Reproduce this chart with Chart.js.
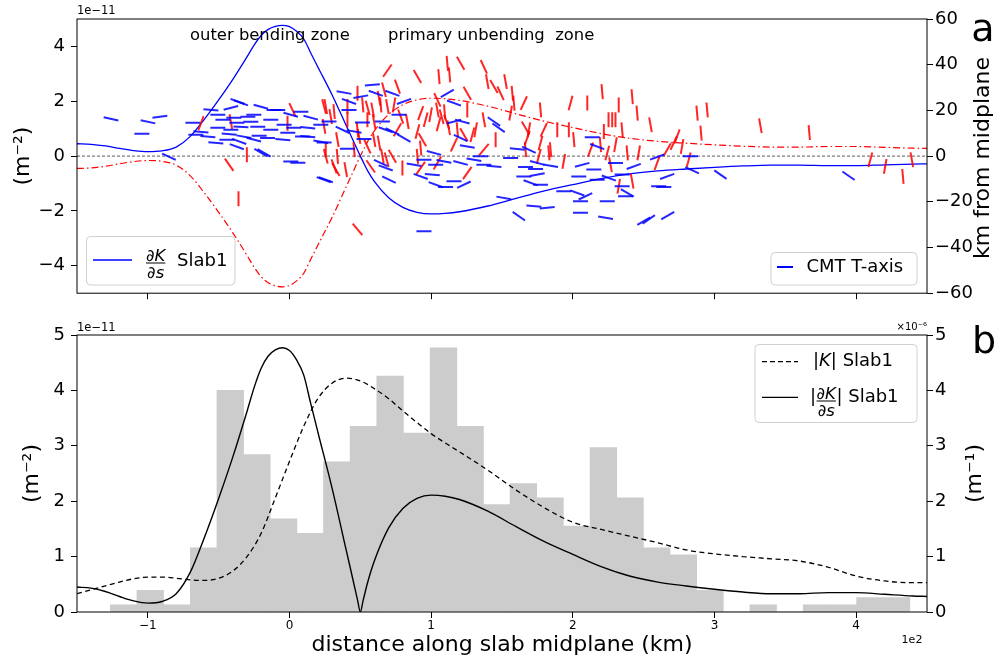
<!DOCTYPE html>
<html>
<head>
<meta charset="utf-8">
<script src="https://cdn.jsdelivr.net/npm/chart.js@4.4.0/dist/chart.umd.min.js"></script>
<style>
  html, body { margin: 0; padding: 0; background: #fff; }
  #wrap { position: relative; width: 1003px; height: 662px; }
  #chartA { position: absolute; left: 0; top: 0; }
  #chartB { position: absolute; left: 0; top: 310px; }
</style>
</head>
<body>
<div id="wrap">
  <canvas id="chartA" width="1003" height="310"></canvas>
  <canvas id="chartB" width="1003" height="352"></canvas>
</div>
<script>
// ---- axis ticks ----
const xTickValues = [-100, 0, 100, 200, 300, 400];
const xTickLabels = ['\u22121', '0', '1', '2', '3', '4'];
const topLeftTicks = [-4, -2, 0, 2, 4];
const kmTicks = [-60, -40, -20, 0, 20, 40, 60];
const botTicks = [0, 1, 2, 3, 4, 5];

// ---- curvature gradient dK/ds along slab (x in km, values in 1e-11 m^-2) ----
const curveX = [-150, -140, -130, -120, -110, -100, -90, -80, -70, -60, -50, -40, -30, -25, -20, -15, -10, -5, 0,
  5, 10, 15, 20, 30, 40, 45, 48, 50, 52, 55, 60, 70, 80, 90, 100, 110, 120,
  140, 160, 180, 200, 220, 240, 260, 280, 300, 320, 340, 360, 380, 400, 420, 440, 450];
const dKds = [0.45, 0.43, 0.37, 0.28, 0.20, 0.16, 0.19, 0.33, 0.72, 1.35, 2.05, 2.80, 3.62, 4.05, 4.40, 4.62, 4.73, 4.77, 4.72,
  4.55, 4.28, 3.76, 3.25, 2.24, 1.12, 0.56, 0.22, 0, -0.21, -0.52, -0.93, -1.52, -1.87, -2.05, -2.11, -2.09, -2.03,
  -1.82, -1.54, -1.27, -1.04, -0.82, -0.65, -0.54, -0.47, -0.41, -0.36, -0.33, -0.33, -0.35, -0.35, -0.32, -0.29, -0.28];

// ---- |K| (1e-6 m^-1) ----
const kX = [-150, -140, -130, -120, -110, -100, -90, -80, -70, -60, -50, -40, -30, -20, -10, 0,
  10, 20, 30, 40, 50, 60, 70, 80, 90, 100, 110, 120,
  140, 160, 180, 200, 220, 240, 260, 280, 300, 320, 340, 360, 380, 400, 420, 440, 450];
const absK = [0.33, 0.40, 0.47, 0.54, 0.60, 0.63, 0.63, 0.61, 0.58, 0.57, 0.61, 0.74, 1.00, 1.42, 2.06, 2.72,
  3.35, 3.85, 4.13, 4.22, 4.17, 4.03, 3.85, 3.63, 3.42, 3.22, 3.05, 2.89,
  2.56, 2.20, 1.88, 1.62, 1.49, 1.37, 1.25, 1.12, 1.05, 1.00, 0.96, 0.92, 0.81, 0.65, 0.56, 0.53, 0.53];

// ---- earthquake histogram ----
const binCenters = [-117.1, -98.3, -79.5, -60.6, -41.8, -23.0, -4.2, 14.6, 33.4, 52.2, 71.0, 89.9, 108.7, 127.5, 146.3,
  165.1, 183.9, 202.7, 221.6, 240.4, 259.2, 278.0, 296.8, 315.6, 334.4, 353.3, 372.1, 390.9, 409.7, 428.5];
const binHeights = [0.13, 0.39, 0.13, 1.16, 4.00, 2.84, 1.68, 1.42, 2.71, 3.35, 4.26, 3.23, 4.77, 3.35, 1.94,
  2.32, 2.06, 1.55, 2.97, 2.06, 1.16, 1.03, 0.39, 0, 0.13, 0, 0.13, 0.13, 0.26, 0.26];

// ---- CMT T-axis (x km, km from midplane, angle deg) ----
const tX = [-126.0, -99.9, -91.5, -104.2, -85.1, -68.2, -62.5, -55.5, -50.6, -50.6, -57.6, -41.4, -34.3, -39.3, -29.4,
  -25.2, -34.3, -22.4, -13.2, -41.4, -32.2, -25.2, -13.2, -8.3, 0.9, 8.0, 15.0, 3.0, 12.9, 22.1,
  -4.7, 12.9, 22.1, -20.2, 0.9, 5.9, 24.2, -1.2, -20.2, -47.0, -37.2, -27.3, -44.2, -52.0, -37.2,
  -36.7, -10.9, -3.8, 9.2, -17.9, -66.1, -42.6, -35.5, -21.4, -15.5,
  38.5, 42.0, 50.3, 58.5, 60.9, 72.6, 80.8, 42.0, 27.9, 37.4, 45.6, 52.6, 40.9, 24.4, 51.5,
  65.6, 67.9, 80.8, 72.6, 77.3, 111.4, 116.1, 116.1, 122.0, 120.8, 125.5, 64.4, 67.9, 70.2, 87.9,
  94.9, 102.0, 103.2, 109.0, 92.6, 100.8, 103.2, 110.2, 116.1, 123.1, 120.8, 130.2, 134.9, 137.2, 94.9,
  25.6, 144.3, 147.6, 160.8, 169.0, 156.1, 144.3, 166.6, 174.9, 184.3, 173.7, 165.4, 174.9, 170.2, 177.2,
  151.3, 172.5, 181.9, 161.9, 205.4, 193.6, 203.1, 208.9, 205.4, 204.2, 206.6, 214.8, 213.7, 217.2, 217.2,
  225.4, 224.3, 223.1, 230.1, 234.8, 234.8, 238.4, 237.2, 243.0, 253.6, 259.5, 260.6, 266.6, 264.2, 267.0,
  283.0, 284.2, 304.2, 394.6, 250.1];
const tZ = [16.3, 15.0, 17.2, 9.8, -0.3, 14.6, 10.6, 20.2, 18.1, 12.4, 8.5, 21.1, 23.3, 16.8, 17.2,
  18.1, 12.8, 12.8, 11.5, 11.5, 8.5, 7.2, 15.9, 20.2, 18.1, 19.4, 16.8, 12.4, 12.4, 13.7,
  7.2, 8.5, 6.3, 1.5, -2.4, -2.9, -10.3, 10.2, 21.6, 15.9, 14.6, 15.0, 7.2, 5.8, 4.1,
  23.9, 20.2, 13.7, 8.6, 1.4, 9.3, 9.6, 6.4, 8.9, 7.9,
  27.8, 23.9, 26.0, 31.2, 27.5, 27.5, 23.9, 20.2, 15.1, 11.5, 10.8, 7.5, 3.2, 6.0, 14.7,
  15.1, 11.5, 7.9, 10.8, 18.1, 27.5, 23.2, 15.1, 15.1, 7.9, 4.2, -3.0, -5.2, -10.3, -3.8,
  -1.6, 1.4, -3.8, -2.3, -8.9, -8.1, -12.5, -13.5, -11.0, -12.5, -3.0, -1.6, -0.1, -3.8, -32.9,
  -10.3, 15.1, 12.4, 3.1, 2.8, -0.8, -4.5, -4.8, -3.0, -4.2, -5.6, -8.9, -8.1, -11.7, -12.5,
  -18.3, -21.9, -22.6, -26.3, -24.8, -15.4, -16.1, -17.6, -19.8, -8.9, -3.8, -5.9, 8.3, 4.2, -10.3,
  -9.6, -19.8, -27.0, -3.0, -8.1, -13.2, -16.1, -17.6, -4.5, -27.7, -0.4, -13.2, -8.9, -13.5, -26.0,
  -0.1, -6.2, -8.1, -8.6, -28.5];
const tRot = [12, 12, -8, 0, 25, 0, 5, 5, 0, 0, 5, -15, 20, 0, 0,
  0, 3, 0, 0, 0, 10, 15, 0, 0, 15, 0, 15, 0, 5, 0,
  5, 5, 10, 30, 0, 0, 20, 0, 15, 0, 0, 0, 0, 5, 20,
  20, 0, 0, 0, 30, 0, 5, 20, 0, 0,
  10, 20, -10, -5, 20, 20, -20, 0, 0, 25, 10, 0, 0, 0, 0,
  0, 20, 30, 25, 0, -30, 20, -15, 15, 25, 10, 25, 20, 25, 10,
  0, 15, 0, 10, 20, 5, 20, 0, 0, -25, 15, 10, 0, 0, 0,
  20, 35, 35, 5, 25, 0, 5, 0, 15, 10, 0, 0, -10, 20, 0,
  10, 5, -5, 35, 0, 0, 20, -25, 0, 0, -15, 0, 0, 20, 0,
  20, 0, 10, 0, 0, 0, 30, 0, -20, -35, -20, 0, -20, 0, -30,
  0, 25, 35, 35, -30];

// ---- CMT P-axis (x km, km from midplane, angle deg) ----
const pX = [-62.5, -41.4, -30.1, -42.6, -36.0, 2.1, -1.4, 24.4, 29.1, 25.6, 31.5, 33.8, 69.1, 90.3, 105.5,
  111.4, 113.0, 120.8, 137.2, 139.6, 76.2, 66.7, 63.2, 48.0, 40.9, 51.7, 55.2, 58.7, 64.4, 69.1,
  73.8, 25.6, 31.5, 24.4, 40.9, 55.0, 59.7, 78.5, 83.2, 76.2, 92.6, 96.1, 99.6, 104.4, 107.4,
  109.5, 110.9, 105.3, 112.4, 104.4, 125.5, 125.5, 137.2, 118.5, 129.1, 131.4, 90.3, 93.8, 92.6, 116.1,
  123.1, 25.6, 33.8, 39.7, 32.7, 57.3, 65.6, 68.6, 72.6, 79.7, 90.3, 92.6, 104.4, 125.5, 137.2,
  48.0, 59.7, 55.0, 63.2, 48.0, 49.1, 45.6, 152.5, 149.0, 157.3, 158.4, 165.4, 177.2, 198.4, 210.2,
  220.7, 232.4, 241.9, 245.4, 254.8, 225.2, 227.8, 230.1, 221.9, 234.8, 145.5, 156.1, 166.6, 167.8, 169.0,
  179.5, 177.2, 176.0, 184.3, 189.0, 197.2, 200.7, 193.6, 212.5, 219.5, 224.3, 230.1, 238.4, 246.5, 259.5,
  241.9, 232.4, 226.6, 183.1, 166.6, 287.7, 294.8, 290.5, 332.4, 366.9, 273.6, 271.2, 266.6, 277.1, 281.8,
  410.0, 420.5, 433.0, 439.3, 144.3];
const pZ = [14.4, 15.1, 0.6, -3.8, -18.7, 20.2, 14.4, 21.7, 17.3, -0.1, -4.5, 7.2, 37.4, 34.8, 34.8,
  40.6, 35.5, 40.6, 39.1, 32.6, 30.4, 29.0, 25.3, 27.5, 21.7, 22.4, 21.1, 20.2, 22.4, 21.7,
  22.4, 21.7, 19.5, 13.0, 15.9, 15.9, 15.1, 17.3, 15.1, 11.5, 18.8, 15.9, 18.1, 20.2, 17.2,
  19.4, 15.0, 14.1, 12.4, 24.6, 27.5, 20.2, 15.9, 11.5, 9.3, 11.5, 10.8, 7.2, 3.5, 5.0,
  9.3, 2.8, -0.1, -5.9, -5.9, -4.5, -0.1, -1.6, -0.1, -5.2, -0.1, -5.2, -3.0, -7.4, 2.8,
  -32.1, 7.2, 4.2, 5.7, 11.5, 8.6, 2.8, 32.6, 27.5, 27.5, 23.2, 23.2, 20.2, 23.2, 23.2,
  28.2, 22.4, 26.0, 18.8, 13.7, 15.9, 15.9, 15.9, 10.8, 11.5, 7.2, 18.8, 12.3, 7.9, 11.5,
  11.5, 5.7, -0.1, 2.8, 11.5, 11.5, 7.2, -2.3, 2.8, 5.0, 1.4, 5.0, 1.4, 1.4, -3.0,
  -11.0, -13.2, -3.8, 1.4, 2.8, 18.8, 20.2, 10.1, 13.3, 10.3, 8.6, 5.7, 2.8, 4.2, -1.6,
  -1.6, -4.5, -8.9, -1.6, 30.5];
const pRot = [-70, 80, 90, 55, 90, 65, 90, 75, 80, 75, 70, 80, -55, 60, 85,
  85, 85, 60, 65, 80, 70, 75, 80, 90, 90, 85, 75, 80, 85, 80,
  -80, 80, 85, 80, 90, 90, 80, 70, 80, -60, -70, -75, -80, 80, 75,
  85, 70, -75, 80, 65, 60, 90, 80, 85, -75, -80, -75, 60, 85, -65,
  60, 90, 85, 80, 60, 55, 80, 75, 60, 90, 85, -55, -60, -55, -50,
  50, 80, 65, 80, 85, 80, 85, 80, 65, 85, 85, -65, 85, -75, 90,
  85, 90, 85, 85, 80, 90, 90, 90, 90, 85, 90, -80, 60, -70, -80,
  -65, -75, -75, 85, 90, 90, 85, -80, -70, 85, -75, -80, 85, -80, -70,
  80, -80, 80, 85, 85, 85, 85, 85, 80, 85, -70, -65, -60, -80, -75,
  -75, -80, 85, 80, 60];

const FONT = '"DejaVu Sans", sans-serif';
Chart.defaults.font.family = FONT;
Chart.defaults.color = '#000';

function setTicks(values) {
  return axis => { axis.ticks = values.map(v => ({ value: v })); };
}
function minusLabel(v) { return String(v).replace('-', '\u2212'); }
function pairs(xs, ys) { return xs.map((x, i) => ({ x: x, y: ys[i] })); }

function drawText(ctx, txt, x, y, size, opts) {
  opts = opts || {};
  ctx.save();
  ctx.font = (opts.italic ? 'italic ' : '') + size + 'px ' + FONT;
  ctx.fillStyle = opts.color || '#000';
  ctx.textAlign = opts.align || 'left';
  ctx.textBaseline = opts.baseline || 'middle';
  if (opts.rotate) {
    ctx.translate(x, y);
    ctx.rotate(opts.rotate);
    ctx.fillText(txt, 0, 0);
  } else {
    ctx.fillText(txt, x, y);
  }
  const w = ctx.measureText(txt).width;
  ctx.restore();
  return w;
}

function textWidth(ctx, txt, size, italic) {
  ctx.save();
  ctx.font = (italic ? 'italic ' : '') + size + 'px ' + FONT;
  const w = ctx.measureText(txt).width;
  ctx.restore();
  return w;
}

// dK/ds written as a stacked fraction
function drawFrac(ctx, x, yBar, size) {
  const w = Math.max(textWidth(ctx, '\u2202K', size, true), textWidth(ctx, '\u2202s', size, true));
  drawText(ctx, '\u2202K', x + w / 2, yBar - 2.5, size, { italic: true, align: 'center', baseline: 'alphabetic' });
  drawText(ctx, '\u2202s', x + w / 2, yBar + size * 0.9, size, { italic: true, align: 'center', baseline: 'alphabetic' });
  ctx.fillStyle = '#000';
  ctx.fillRect(x, yBar - 0.5, w, 1);
  return w;
}

function legendFrame(ctx, x, y, w, h) {
  ctx.save();
  ctx.beginPath();
  if (ctx.roundRect) ctx.roundRect(x, y, w, h, 4); else ctx.rect(x, y, w, h);
  ctx.fillStyle = 'rgba(255,255,255,0.8)';
  ctx.fill();
  ctx.strokeStyle = '#d0d0d0';
  ctx.lineWidth = 1;
  ctx.stroke();
  ctx.restore();
}

function seg(ctx, x1, y1, x2, y2, color, width, dash) {
  ctx.save();
  ctx.strokeStyle = color;
  ctx.lineWidth = width;
  ctx.setLineDash(dash || []);
  ctx.beginPath();
  ctx.moveTo(x1, y1);
  ctx.lineTo(x2, y2);
  ctx.stroke();
  ctx.restore();
}

function frame(ctx, a) {
  ctx.save();
  ctx.strokeStyle = '#000';
  ctx.lineWidth = 1;
  ctx.strokeRect(a.left, a.top, a.right - a.left, a.bottom - a.top);
  ctx.restore();
}

const tickGrid = { drawOnChartArea: false, color: '#000', tickLength: 6, offset: false };

const topDecor = {
  id: 'topDecor',
  afterDraw(chart) {
    const ctx = chart.ctx, a = chart.chartArea;
    const mid = (a.top + a.bottom) / 2;
    frame(ctx, a);
    drawText(ctx, '1e\u221211', a.left, 11, 11.5);
    drawText(ctx, 'outer bending zone', 190, 36, 16.4);
    drawText(ctx, 'primary unbending  zone', 388, 36, 16.4);
    drawText(ctx, 'a', 983, 41, 38, { align: 'center', baseline: 'alphabetic' });
    drawText(ctx, '(m\u207b\u00b2)', 23, mid, 22, { align: 'center', rotate: -Math.PI / 2 });
    drawText(ctx, 'km from midplane', 983, 158, 22, { align: 'center', rotate: -Math.PI / 2 });

    legendFrame(ctx, 86.5, 236.5, 148.5, 48.5);
    seg(ctx, 93, 260, 132, 260, '#0000ff', 1.3);
    drawFrac(ctx, 146, 263, 16.5);
    drawText(ctx, 'Slab1', 177, 261, 18);

    legendFrame(ctx, 771, 252.5, 146, 32.5);
    seg(ctx, 777, 267, 793, 267, '#0000ff', 2);
    drawText(ctx, 'CMT T-axis', 806.5, 267, 18);
  }
};

const bottomDecor = {
  id: 'bottomDecor',
  afterDraw(chart) {
    const ctx = chart.ctx, a = chart.chartArea;
    const mid = (a.top + a.bottom) / 2;
    frame(ctx, a);
    drawText(ctx, '1e\u221211', a.left, 18, 11.5);
    drawText(ctx, '\u00d710\u207b\u2076', a.right, 17, 10, { align: 'right' });
    drawText(ctx, '1e2', 912, 330, 11, { align: 'center' });
    drawText(ctx, 'b', 984, 43, 38, { align: 'center', baseline: 'alphabetic' });
    drawText(ctx, '(m\u207b\u00b2)', 32, mid, 22, { align: 'center', rotate: -Math.PI / 2 });
    drawText(ctx, '(m\u207b\u00b9)', 975, mid, 22, { align: 'center', rotate: -Math.PI / 2 });
    drawText(ctx, 'distance along slab midplane (km)', (a.left + a.right) / 2, 335, 22, { align: 'center' });

    legendFrame(ctx, 755, 34.5, 162, 78);
    seg(ctx, 762, 51.7, 798, 51.7, '#000', 1.3, [5, 3]);
    let x = 813;
    x += drawText(ctx, '|', x, 51.7, 18);
    x += drawText(ctx, 'K', x, 51.7, 18, { italic: true });
    x += drawText(ctx, '|', x, 51.7, 18);
    drawText(ctx, ' Slab1', x, 51.7, 18);

    seg(ctx, 762, 87.3, 798, 87.3, '#000', 1.3);
    x = 810;
    x += drawText(ctx, '|', x, 87.3, 18);
    x += drawFrac(ctx, x + 0.5, 91, 16.5) + 1;
    x += drawText(ctx, '|', x, 87.3, 18);
    drawText(ctx, ' Slab1', x, 87.3, 18);
  }
};

// ---- panel a ----
new Chart(document.getElementById('chartA'), {
  type: 'line',
  data: {
    datasets: [
      {
        type: 'scatter', label: 'CMT T-axis', data: pairs(tX, tZ), yAxisID: 'yKm',
        pointStyle: 'line', pointRadius: 7.5, pointBorderWidth: 2,
        pointBorderColor: 'rgba(0,0,255,0.85)',
        pointRotation: c => tRot[c.dataIndex], order: 0
      },
      {
        type: 'scatter', label: 'CMT P-axis', data: pairs(pX, pZ), yAxisID: 'yKm',
        pointStyle: 'line', pointRadius: 7.5, pointBorderWidth: 2,
        pointBorderColor: 'rgba(255,0,0,0.85)',
        pointRotation: c => pRot[c.dataIndex], order: 1
      },
      {
        label: 'dK/ds Slab1', data: pairs(curveX, dKds), yAxisID: 'y',
        borderColor: '#0000ff', borderWidth: 1.3, pointRadius: 0,
        cubicInterpolationMode: 'monotone', order: 2
      },
      {
        label: '-dK/ds Slab1', data: pairs(curveX, dKds.map(v => -v)), yAxisID: 'y',
        borderColor: '#ff0000', borderWidth: 1.2, borderDash: [7, 3, 1.5, 3], pointRadius: 0,
        cubicInterpolationMode: 'monotone', order: 3
      },
      {
        label: 'zero', data: [{ x: -150, y: 0 }, { x: 450, y: 0 }], yAxisID: 'y',
        borderColor: '#333', borderWidth: 0.8, borderDash: [3, 2], pointRadius: 0, order: 4
      }
    ]
  },
  options: {
    responsive: false,
    animation: false,
    events: [],
    layout: { padding: { top: 19, left: 0, right: 0, bottom: 0 } },
    plugins: { legend: { display: false }, tooltip: { enabled: false } },
    scales: {
      x: {
        type: 'linear', min: -150, max: 450, offset: false,
        afterBuildTicks: setTicks(xTickValues),
        afterFit: s => { s.height = 16; },
        ticks: { display: false },
        grid: tickGrid, border: { display: false }
      },
      y: {
        position: 'left', min: -5, max: 5,
        afterBuildTicks: setTicks(topLeftTicks),
        afterFit: s => { s.width = 77; },
        ticks: { font: { size: 18 }, color: '#000', padding: 6, callback: minusLabel },
        grid: tickGrid, border: { display: false }
      },
      yKm: {
        position: 'right', min: -60, max: 60,
        afterBuildTicks: setTicks(kmTicks),
        afterFit: s => { s.width = 76; },
        ticks: { font: { size: 18 }, color: '#000', padding: 2, callback: minusLabel },
        grid: tickGrid, border: { display: false }
      }
    }
  },
  plugins: [topDecor]
});

// ---- panel b ----
new Chart(document.getElementById('chartB'), {
  type: 'line',
  data: {
    datasets: [
      {
        label: '|dK/ds| Slab1', data: pairs(curveX, dKds.map(v => Math.abs(v))), yAxisID: 'y',
        borderColor: '#000', borderWidth: 1.4, pointRadius: 0,
        cubicInterpolationMode: 'monotone', order: 0
      },
      {
        label: '|K| Slab1', data: pairs(kX, absK), yAxisID: 'yK',
        borderColor: '#000', borderWidth: 1.3, borderDash: [5, 3.5], pointRadius: 0,
        cubicInterpolationMode: 'monotone', order: 1
      },
      {
        type: 'bar', label: 'events', data: pairs(binCenters, binHeights), yAxisID: 'y',
        backgroundColor: '#cccccc', borderWidth: 0,
        barPercentage: 1, categoryPercentage: 1, grouped: false, order: 2
      }
    ]
  },
  options: {
    responsive: false,
    animation: false,
    events: [],
    layout: { padding: { top: 25, left: 0, right: 0, bottom: 0 } },
    plugins: { legend: { display: false }, tooltip: { enabled: false } },
    scales: {
      x: {
        type: 'linear', min: -150, max: 450, offset: false,
        afterBuildTicks: setTicks(xTickValues),
        afterFit: s => { s.height = 50; },
        ticks: { font: { size: 12 }, color: '#000', padding: 1, maxRotation: 0,
          callback: v => xTickLabels[xTickValues.indexOf(v)] },
        grid: tickGrid, border: { display: false }
      },
      y: {
        position: 'left', min: 0, max: 5,
        afterBuildTicks: setTicks(botTicks),
        afterFit: s => { s.width = 77; },
        ticks: { font: { size: 18 }, color: '#000', padding: 6 },
        grid: tickGrid, border: { display: false }
      },
      yK: {
        position: 'right', min: 0, max: 5,
        afterBuildTicks: setTicks(botTicks),
        afterFit: s => { s.width = 76; },
        ticks: { font: { size: 18 }, color: '#000', padding: 2 },
        grid: tickGrid, border: { display: false }
      }
    }
  },
  plugins: [bottomDecor]
});
</script>
</body>
</html>
